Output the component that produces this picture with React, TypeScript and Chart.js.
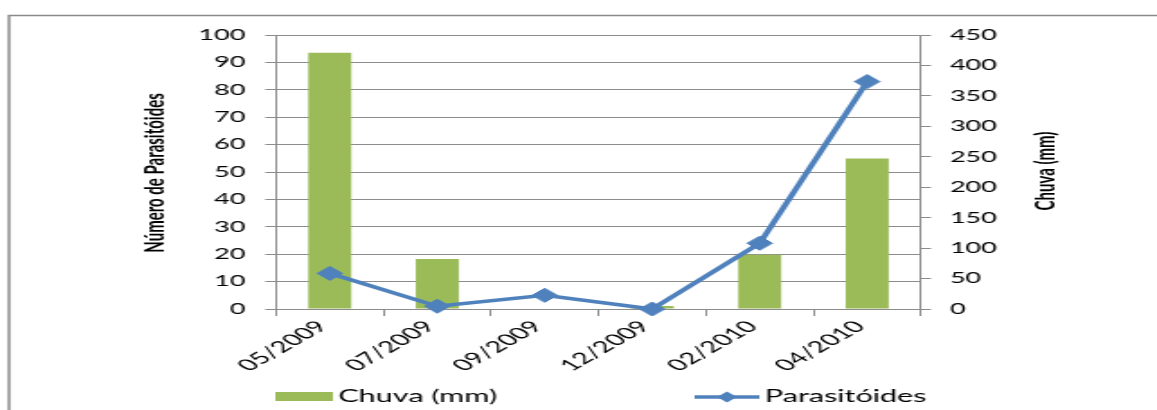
import { useEffect, useRef } from 'react';
import { Chart, registerables } from 'chart.js';

Chart.register(...registerables);

// Sampling dates
const categories = ['05/2009', '07/2009', '09/2009', '12/2009', '02/2010', '04/2010'];
// Rainfall (mm), right axis
const chuvaMm = [421, 82, 0, 5, 89, 247];
// Parasitoid counts, left axis
const parasitoides = [13, 1, 5, 0, 24, 83];

// Axis ranges
const leftAxisMax = 100;
const leftAxisStep = 10;
const rightAxisMax = 450;
const rightAxisStep = 50;

const leftTitle = 'Número de Parasitóides';
const rightTitle = 'Chuva (mm)';
const barLabel = 'Chuva (mm)';
const lineLabel = 'Parasitóides';

// The drawing surface is rendered narrow and displayed wide.
const DRAW_W = 643;
const DRAW_H = 410;
const SHOW_W = 1157;

const GREEN = '#9BBB59';
const BLUE = '#4F81BD';
const GRID = '#8c8c8c';
const FONT = 'Lato, "Open Sans", sans-serif';

const framePlugin = {
  id: 'frame',
  beforeDraw(chart: any) {
    const ctx = chart.ctx;
    ctx.save();
    ctx.fillStyle = '#ffffff';
    ctx.fillRect(0, 0, DRAW_W, DRAW_H);
    ctx.strokeStyle = '#8a8a8a';
    ctx.lineWidth = 1.5;
    ctx.beginPath();
    ctx.moveTo(5, DRAW_H);
    ctx.lineTo(5, 15.5);
    ctx.lineTo(DRAW_W, 15.5);
    ctx.stroke();
    ctx.restore();
  },
};

const diamond = (ctx: CanvasRenderingContext2D, x: number, y: number, r: number) => {
  ctx.beginPath();
  ctx.moveTo(x, y - r);
  ctx.lineTo(x + r, y);
  ctx.lineTo(x, y + r);
  ctx.lineTo(x - r, y);
  ctx.closePath();
  ctx.fill();
};

const labelsPlugin = {
  id: 'labels',
  afterDraw(chart: any) {
    const ctx = chart.ctx as CanvasRenderingContext2D;
    ctx.save();
    ctx.fillStyle = '#000000';
    ctx.textAlign = 'center';
    ctx.textBaseline = 'middle';
    ctx.font = `bold 15px ${FONT}`;

    // axis titles, both reading bottom to top
    ctx.save();
    ctx.translate(86, 173);
    ctx.rotate(-Math.PI / 2);
    ctx.fillText(leftTitle, 0, 0);
    ctx.restore();

    ctx.save();
    ctx.translate(581, 171);
    ctx.rotate(-Math.PI / 2);
    ctx.fillText(rightTitle, 0, 0);
    ctx.restore();

    // legend
    const ly = 397;
    ctx.font = `17px ${FONT}`;
    ctx.textAlign = 'left';
    ctx.fillStyle = GREEN;
    ctx.fillRect(153, ly - 5, 32, 9);
    ctx.fillStyle = '#000000';
    ctx.fillText(barLabel, 188, ly);

    ctx.strokeStyle = BLUE;
    ctx.lineWidth = 3.5;
    ctx.beginPath();
    ctx.moveTo(386, ly);
    ctx.lineTo(422, ly);
    ctx.stroke();
    ctx.fillStyle = BLUE;
    diamond(ctx, 404, ly, 5.5);
    ctx.fillStyle = '#000000';
    ctx.fillText(lineLabel, 425, ly);
    ctx.restore();
  },
};

export default function App() {
  const canvasRef = useRef<HTMLCanvasElement | null>(null);

  useEffect(() => {
    const canvas = canvasRef.current;
    if (!canvas) return;
    const chart = new Chart(canvas, {
      type: 'bar',
      data: {
        labels: categories,
        datasets: [
          {
            type: 'line',
            label: lineLabel,
            data: parasitoides,
            yAxisID: 'y',
            borderColor: BLUE,
            backgroundColor: BLUE,
            borderWidth: 3.5,
            pointStyle: 'rectRot',
            pointRadius: 7,
            pointBorderWidth: 1,
            pointBackgroundColor: BLUE,
            pointBorderColor: BLUE,
            tension: 0,
            clip: false,
            order: 0,
          } as any,
          {
            type: 'bar',
            label: barLabel,
            data: chuvaMm,
            yAxisID: 'y1',
            backgroundColor: GREEN,
            borderWidth: 0,
            categoryPercentage: 1,
            barPercentage: 0.4,
            order: 1,
          },
        ],
      },
      options: {
        responsive: false,
        maintainAspectRatio: false,
        devicePixelRatio: 1,
        animation: false,
        layout: { padding: { top: 35, left: 0, right: 0, bottom: 0 } },
        plugins: {
          legend: { display: false },
          tooltip: { enabled: false },
        },
        scales: {
          x: {
            offset: true,
            grid: {
              display: true,
              offset: true,
              drawOnChartArea: false,
              drawTicks: true,
              tickLength: 7,
              color: GRID,
            },
            border: { display: true, color: GRID, width: 1 },
            ticks: {
              autoSkip: false,
              minRotation: 45,
              maxRotation: 45,
              padding: 1,
              labelOffset: -4,
              color: '#000000',
              font: { family: FONT, size: 16 },
            },
            afterFit: (scale: any) => {
              scale.height = DRAW_H - 309;
            },
          },
          y: {
            position: 'left',
            min: 0,
            max: leftAxisMax,
            ticks: {
              stepSize: leftAxisStep,
              padding: 11,
              color: '#000000',
              font: { family: FONT, size: 15 },
            },
            grid: { color: GRID, tickLength: 6, drawTicks: true },
            border: { display: true, color: GRID, width: 1 },
            afterFit: (scale: any) => {
              scale.width = 153.4;
            },
          },
          y1: {
            position: 'right',
            min: 0,
            max: rightAxisMax,
            ticks: {
              stepSize: rightAxisStep,
              padding: 10.5,
              color: '#000000',
              font: { family: FONT, size: 15 },
            },
            grid: { drawOnChartArea: false, color: GRID, tickLength: 5.6, drawTicks: true },
            border: { display: true, color: GRID, width: 1 },
            afterFit: (scale: any) => {
              scale.width = DRAW_W - 511.8;
            },
          },
        },
      },
      plugins: [framePlugin, labelsPlugin],
    });
    return () => chart.destroy();
  }, []);

  return (
    <canvas
      ref={canvasRef}
      width={DRAW_W}
      height={DRAW_H}
      style={{
        position: 'fixed',
        left: 0,
        top: 0,
        width: `${SHOW_W}px`,
        height: `${DRAW_H}px`,
        display: 'block',
      }}
    />
  );
}
